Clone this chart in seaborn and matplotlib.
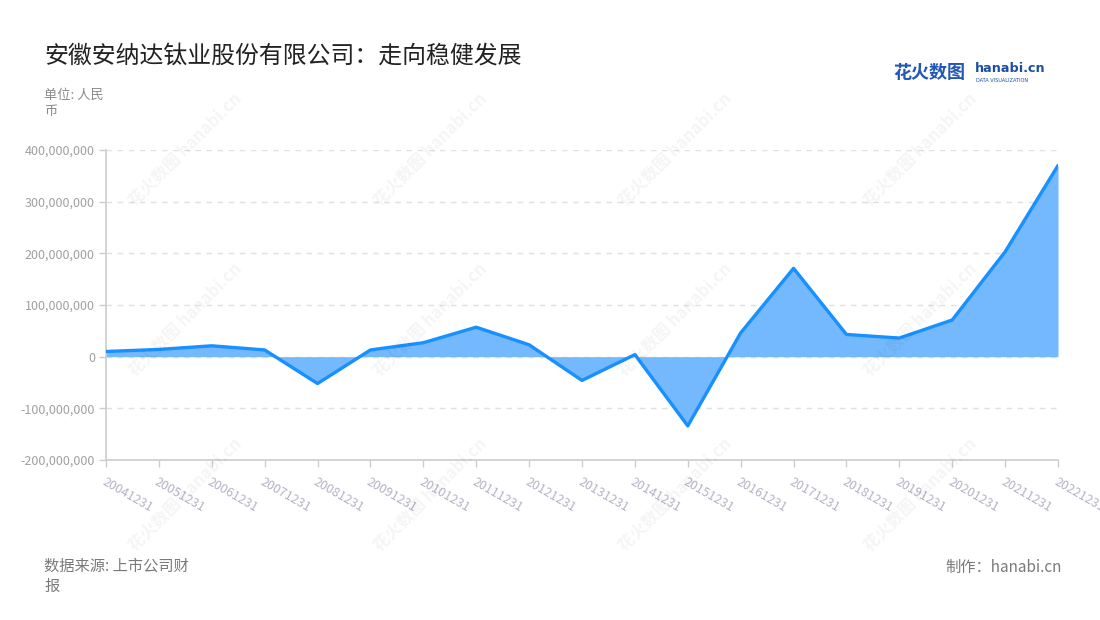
import matplotlib
matplotlib.use("Agg")
import matplotlib.pyplot as plt
import seaborn as sns
import numpy as np
import pandas as pd
from matplotlib.ticker import FuncFormatter

years = ["20041231", "20051231", "20061231", "20071231", "20081231", "20091231",
         "20101231", "20111231", "20121231", "20131231", "20141231", "20151231",
         "20161231", "20171231", "20181231", "20191231", "20201231", "20211231",
         "20221231"]
values = [10e6, 14e6, 21e6, 13e6, -52e6, 13e6, 27e6, 57e6, 23e6, -46e6, 4e6,
          -134e6, 46e6, 171e6, 43e6, 36e6, 71e6, 203e6, 370e6]
y_ticks = [-200e6, -100e6, 0, 100e6, 200e6, 300e6, 400e6]

title = "安徽安纳达钛业股份有限公司：走向稳健发展"
unit_text = "单位: 人民\n币"
source_text = "数据来源: 上市公司财\n报"
credit_text = "制作：hanabi.cn"

sns.set_theme(style="white")
plt.rcParams['font.family'] = ['Noto Sans CJK SC', 'DejaVu Sans']

df = pd.DataFrame({"idx": np.arange(len(years)), "value": values})

fig = plt.figure(figsize=(11, 6.2), dpi=100)
ax = fig.add_axes([106/1100, 1 - 460/620, (1058-106)/1100, (460-150)/620])

line_color = "#1890ff"
fill_color = "#74b9fd"

ax.fill_between(df["idx"], df["value"], 0, color=fill_color, linewidth=0, zorder=2)
sns.lineplot(data=df, x="idx", y="value", ax=ax, color=line_color, linewidth=2.4,
             zorder=3, legend=False)

ax.set_xlim(0, len(years) - 1)
ax.set_ylim(-200e6, 400e6)
ax.set_yticks(y_ticks)
ax.yaxis.set_major_formatter(FuncFormatter(lambda v, p: f"{int(round(v)):,}"))
ax.set_xticks(df["idx"])
ax.set_xticklabels(years, rotation=-30, ha="left", va="top", rotation_mode="anchor",
                   color="#b3b3c6", fontsize=9)
ax.set_xlabel("")
ax.set_ylabel("")

for lbl in ax.get_yticklabels():
    lbl.set_color("#a0a0a0")
    lbl.set_fontsize(9)

ax.grid(axis="y", linestyle=(0, (4, 4)), color="#e0e0e0", linewidth=1, zorder=0)
ax.grid(axis="x", visible=False)
for s in ["top", "right"]:
    ax.spines[s].set_visible(False)
for s in ["left", "bottom"]:
    ax.spines[s].set_color("#cccccc")
    ax.spines[s].set_linewidth(1.2)
ax.tick_params(axis="both", which="both", length=5, color="#cccccc", width=1,
               direction="out", bottom=True, left=True)
ax.tick_params(axis="x", pad=6)
ax.tick_params(axis="y", pad=3)
ax.set_axisbelow(True)

# title and annotations
fig.text(44/1100, 1 - 56/620, title, fontsize=17.2, color="#222222", va="center", ha="left")
fig.text(44/1100, 1 - 89/620, unit_text, fontsize=9.5, color="#8a8a8a", va="top",
         ha="left", linespacing=1.3)
fig.text(44/1100, 1 - 558/620, source_text, fontsize=11, color="#7a7a7a", va="top",
         ha="left", linespacing=1.25)
fig.text(1062/1100, 1 - 567/620, credit_text, fontsize=11, color="#7a7a7a",
         va="center", ha="right")

# logo
fig.text(893/1100, 1 - 72/620, "花火数图", fontsize=13, color="#2357b5", va="center",
         ha="left", fontweight="bold")
fig.text(975/1100, 1 - 69/620, "hanabi.cn", fontsize=9.2, color="#1d4ea5",
         va="center", ha="left", fontweight="bold", family=["DejaVu Sans"])
fig.text(976/1100, 1 - 80/620, "DATA VISUALIZATION", fontsize=3.6, color="#1d4ea5",
         va="center", ha="left", family=["DejaVu Sans"])

# watermarks
wm_x = [185, 430, 675, 920]
wm_y = [150, 320, 495]
for yy in wm_y:
    for xx in wm_x:
        fig.text(xx/1100, 1 - yy/620, "花火数图 hanabi.cn", fontsize=12, color="#000000",
                 alpha=0.045, rotation=45, ha="center", va="center", fontweight="bold")

fig.savefig("out.png", dpi=100)
